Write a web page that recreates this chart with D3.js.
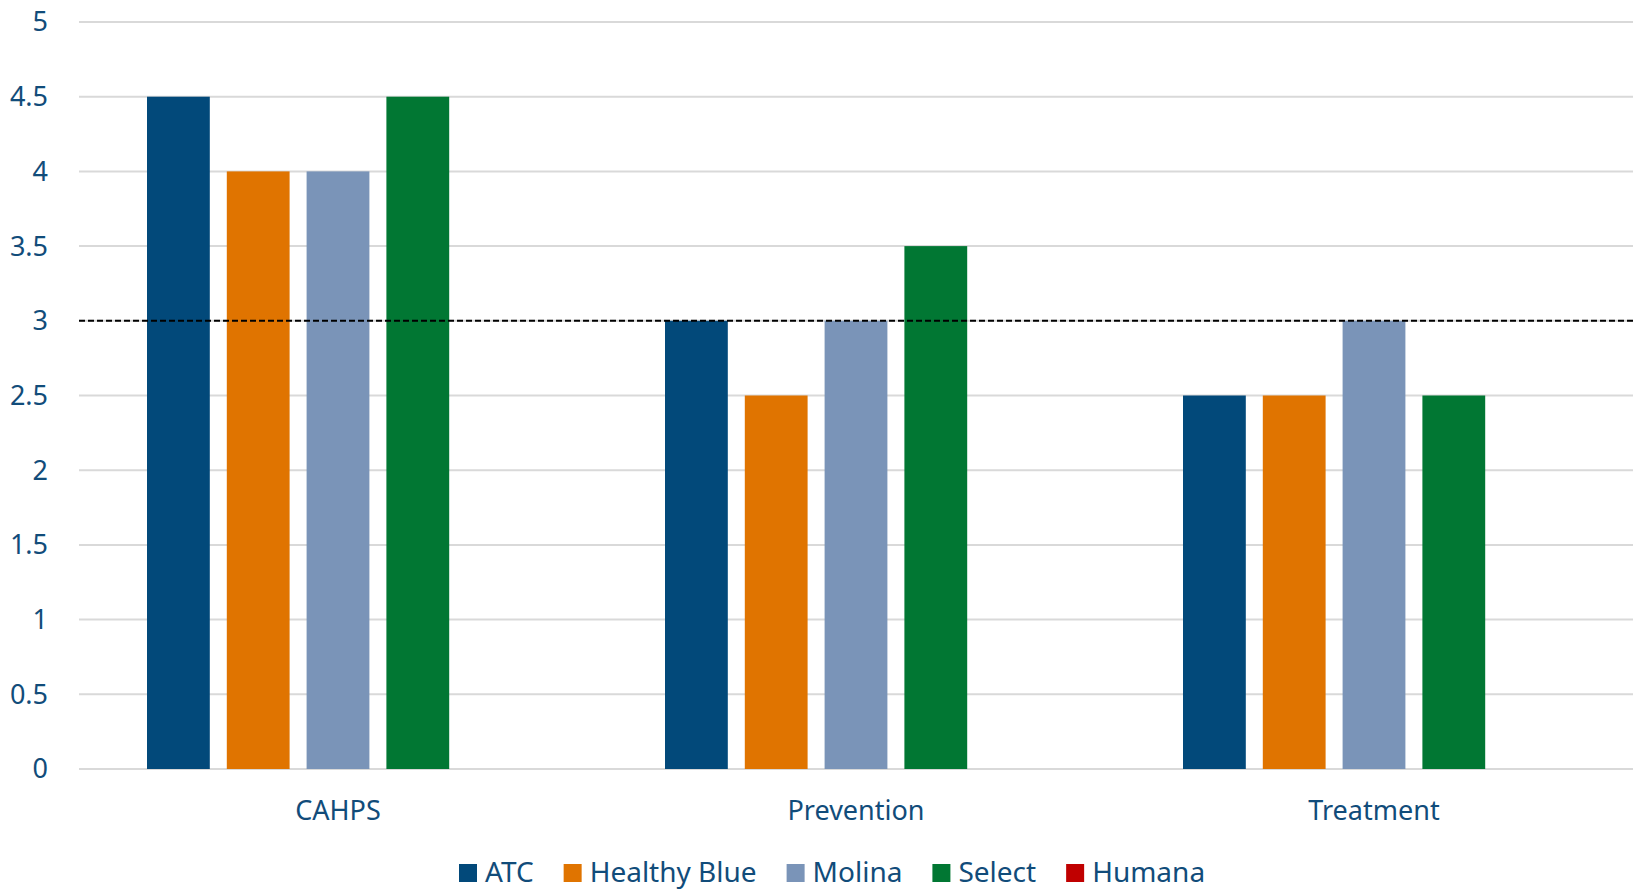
<!DOCTYPE html>
<html>
<head>
<meta charset="utf-8">
<script src="https://cdn.jsdelivr.net/npm/d3@7"></script>
<style>
  body { margin: 0; background: #fff; }
  text { font-family: "Noto Sans", "Open Sans", sans-serif; fill: #114C7A; }
</style>
</head>
<body>
<script>
var categories = ["CAHPS", "Prevention", "Treatment"];
var series = ["ATC", "Healthy Blue", "Molina", "Select", "Humana"];
var colors = ["#02497A", "#E07400", "#7A94B8", "#017733", "#C00000"];
var values = {
  "ATC":          [4.5, 3,   2.5],
  "Healthy Blue": [4,   2.5, 2.5],
  "Molina":       [4,   3,   3],
  "Select":       [4.5, 3.5, 2.5],
  "Humana":       [null, null, null]
};
var yTicks = [0, 0.5, 1, 1.5, 2, 2.5, 3, 3.5, 4, 4.5, 5];
var benchmark = 3;

var width = 1633, height = 895;
var plotLeft = 79, plotRight = 1633, plotTop = 22, plotBottom = 769;

var svg = d3.select("body").append("svg")
    .attr("width", width)
    .attr("height", height);

var y = d3.scaleLinear().domain([0, 5]).range([plotBottom, plotTop]);
var x0 = d3.scaleBand().domain(categories).range([plotLeft, plotRight]).padding(0);
var x1 = d3.scaleBand().domain(series)
    .range([68, x0.bandwidth() - 68])
    .paddingInner(0.213).paddingOuter(0);

// gridlines
svg.append("g").selectAll("line")
    .data(yTicks)
    .enter().append("line")
    .attr("x1", plotLeft).attr("x2", plotRight)
    .attr("y1", function (d) { return y(d); })
    .attr("y2", function (d) { return y(d); })
    .style("stroke", "#D9D9D9")
    .style("stroke-width", 2);

// y labels
svg.append("g").selectAll("text")
    .data(yTicks)
    .enter().append("text")
    .attr("x", 48)
    .attr("y", function (d) { return y(d); })
    .attr("dy", "0.35em")
    .attr("text-anchor", "end")
    .style("font-size", "27px")
    .text(function (d) { return d; });

// bars
var groups = svg.append("g").selectAll("g")
    .data(categories)
    .enter().append("g")
    .attr("transform", function (d) { return "translate(" + x0(d) + ",0)"; });

groups.selectAll("rect")
    .data(function (d, i) {
      return series.map(function (s, j) { return { s: s, v: values[s][i], c: colors[j] }; })
        .filter(function (o) { return o.v != null; });
    })
    .enter().append("rect")
    .attr("x", function (d) { return x1(d.s); })
    .attr("width", x1.bandwidth())
    .attr("y", function (d) { return y(d.v); })
    .attr("height", function (d) { return y(0) - y(d.v); })
    .style("fill", function (d) { return d.c; });

// benchmark line
svg.append("line")
    .attr("x1", plotLeft).attr("x2", plotRight)
    .attr("y1", y(benchmark)).attr("y2", y(benchmark))
    .style("stroke", "#000")
    .style("stroke-width", 2)
    .style("stroke-dasharray", "6,3");

// category labels
svg.append("g").selectAll("text")
    .data(categories)
    .enter().append("text")
    .attr("x", function (d) { return x0(d) + x0.bandwidth() / 2; })
    .attr("y", 820)
    .attr("text-anchor", "middle")
    .style("font-size", "27px")
    .text(function (d) { return d; });

// legend
var lx = 459;
series.forEach(function (s, i) {
  svg.append("rect")
      .attr("x", lx).attr("y", 864)
      .attr("width", 18).attr("height", 18)
      .style("fill", colors[i]);
  var t = svg.append("text")
      .attr("x", lx + 26).attr("y", 882)
      .style("font-size", "28px")
      .text(s);
  lx = lx + 26 + t.node().getComputedTextLength() + 30;
});
</script>
</body>
</html>
